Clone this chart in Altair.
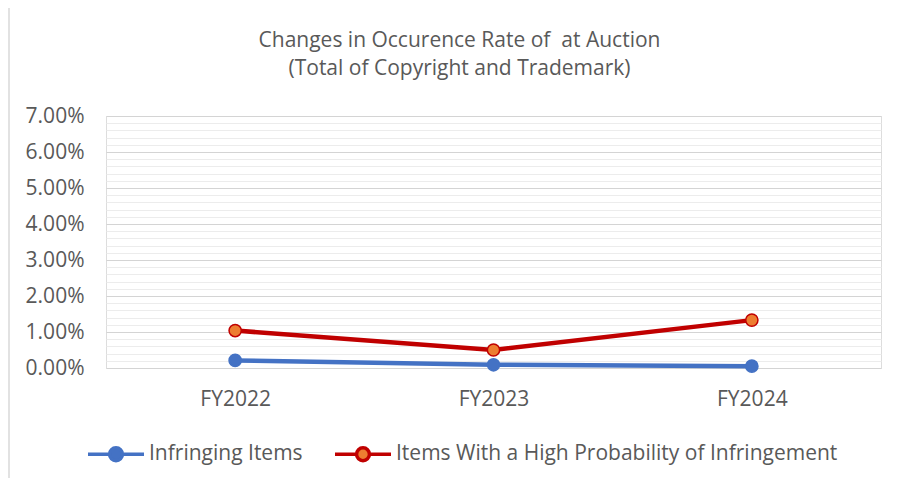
import altair as alt
import pandas as pd

years = ["FY2022", "FY2023", "FY2024"]
series_names = ["Infringing Items", "Items With a High Probability of Infringement"]
infringing = [0.0021, 0.0009, 0.0005]
high_prob = [0.0104, 0.0050, 0.0133]

line_colors = ["#4472C4", "#C00000"]
marker_fills = ["#4472C4", "#ED7D31"]

rows = []
for y, v in zip(years, infringing):
    rows.append({"year": y, "series": series_names[0], "value": v})
for y, v in zip(years, high_prob):
    rows.append({"year": y, "series": series_names[1], "value": v})
df = pd.DataFrame(rows)

tick_vals = [round(i * 0.002, 4) for i in range(36)]
FONT = "Open Sans"
GRAY = "#595959"

legend_path = "M-1,0 L-0.23,0 M0.23,0 L1,0 M-0.23,0 A0.23,0.23 0 1,0 0.23,0 A0.23,0.23 0 1,0 -0.23,0 Z"

legend = alt.Legend(
    title=None,
    orient="none",
    direction="horizontal",
    legendX=-20,
    legendY=308,
    symbolType=legend_path,
    symbolSize=3136,
    symbolStrokeWidth=3.5,
    labelFont=FONT,
    labelFontSize=21,
    labelColor=GRAY,
    labelOffset=3,
    columnPadding=25,
    labelLimit=700,
)

x_enc = alt.X(
    "year:N",
    sort=years,
    scale=alt.Scale(type="point", padding=0.5),
    axis=alt.Axis(
        title=None, labelAngle=0, domain=False, ticks=False, grid=False,
        labelFont=FONT, labelFontSize=21, labelColor=GRAY, labelPadding=20,
    ),
)
y_enc = alt.Y(
    "value:Q",
    scale=alt.Scale(domain=[0, 0.07], nice=False),
    axis=alt.Axis(
        title=None, values=tick_vals, domain=False, ticks=False,
        labelExpr="round(datum.value*500) % 5 == 0 ? format(datum.value, '.2%') : ''",
        labelOverlap=False,
        labelFont=FONT, labelFontSize=21, labelColor=GRAY, labelPadding=22,
        gridColor=alt.condition("round(datum.value*500) % 5 == 0", alt.value("#d4d4d4"), alt.value("#ececec")),
        gridWidth=1.2,
    ),
)

stroke_scale = alt.Scale(domain=series_names, range=line_colors)
fill_scale = alt.Scale(domain=series_names, range=marker_fills)

lines = alt.Chart(df).mark_line(strokeWidth=4.5).encode(
    x=x_enc, y=y_enc,
    stroke=alt.Stroke("series:N", scale=stroke_scale, sort=series_names, legend=legend),
)
points = alt.Chart(df).mark_point(filled=True, size=150, strokeWidth=1.5, opacity=1).encode(
    x=x_enc, y=y_enc,
    stroke=alt.Stroke("series:N", scale=stroke_scale, sort=series_names, legend=legend),
    fill=alt.Fill("series:N", scale=fill_scale, sort=series_names, legend=legend),
)
frame = alt.Chart(alt.Data(values=[{}])).mark_rule(color="#d9d9d9", strokeWidth=1.5).encode(
    x=alt.value(-97), y=alt.value(-108), y2=alt.value(400)
)

chart = alt.layer(frame, lines, points).properties(
    width=775,
    height=252,
    autosize=alt.AutoSizeParams(type="none"),
    padding={"left": 98, "top": 108, "right": 8, "bottom": 110},
    title=alt.Title(
        ["Changes in Occurence Rate of \u00a0at Auction", "(Total of Copyright and Trademark)"],
        anchor="middle", frame="group", dx=-34, offset=-72, fontSize=21, lineHeight=28,
        font=FONT, fontWeight="normal", color=GRAY,
    ),
).configure_view(stroke=None).configure(background="white")

chart.save("out.html", embed_options={"renderer": "svg", "actions": False})
